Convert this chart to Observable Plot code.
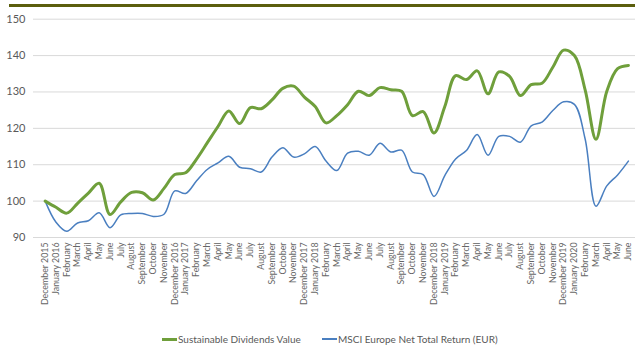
<!DOCTYPE html>
<html>
<head>
<meta charset="utf-8">
<script src="https://cdn.jsdelivr.net/npm/d3@7"></script>
<script src="https://cdn.jsdelivr.net/npm/@observablehq/plot@0.6"></script>
<style>
  html, body { margin: 0; padding: 0; background: #fff; }
  #wrap { position: relative; width: 635px; height: 347px; overflow: hidden; font-family: Lato, "Liberation Sans", sans-serif; }
  #topline { position: absolute; left: 9px; top: 4px; width: 626px; height: 3px; background: #5b5e0d; }
  #chart { position: absolute; left: 0; top: 0; }
  #legend { position: absolute; left: 0; top: 333px; width: 635px; height: 14px; font-size: 10px; color: #595959; }
  .item { position: absolute; top: 0; display: flex; align-items: center; white-space: nowrap; }
  .swatch { display: inline-block; width: 15px; margin-right: 1px; }
</style>
</head>
<body>
<div id="wrap">
  <div id="chart"></div>
  <div id="topline"></div>
  <div id="legend"></div>
</div>
<script>
// Month labels along the x axis (Dec 2015 – Jun 2020)
const tickLabels = [
  "December 2015", "January 2016", "February", "March", "April", "May", "June", "July", "August", "September", "October", "November",
  "December 2016", "January 2017", "February", "March", "April", "May", "June", "July", "August", "September", "October", "November",
  "December 2017", "January 2018", "February", "March", "April", "May", "June", "July", "August", "September", "October", "November",
  "December 2018", "January 2019", "February", "March", "April", "May", "June", "July", "August", "September", "October", "November",
  "December 2019", "January 2020", "February", "March", "April", "May", "June"
];

// Series names
const seriesNames = ["Sustainable Dividends Value", "MSCI Europe Net Total Return (EUR)"];

// Rebased performance (Dec 2015 = 100)
const sustainableDividends = [
  100, 98.3, 96.7, 99.4, 102.2, 104.9, 96.3, 99.8, 102.4, 102.3, 100.3, 103.5,
  107.3, 107.8, 111.5, 116, 120.5, 124.8, 121.3, 125.7, 125.4, 127.8, 131, 131.6,
  128.6, 126, 121.5, 123.5, 126.5, 130.2, 129, 131.2, 130.6, 130.2, 123.5, 124.6,
  118.7, 126, 134.5, 133.4, 135.8, 129.5, 135.5, 134.3, 129, 132, 132.4, 136.8,
  141.5, 140, 130.5, 117, 130.2, 136.4, 137.3
];
const msciEurope = [
  100, 94.2, 91.7, 94, 94.6, 96.8, 92.7, 96.2, 96.6, 96.6, 95.8, 96.4,
  102.8, 102.1, 105.5, 108.7, 110.5, 112.3, 109.3, 108.9, 108, 112.1, 114.7, 112.1,
  113, 115, 111, 108.4, 113.2, 113.7, 112.6, 115.9, 113.5, 114, 108, 107.3,
  101.3, 107, 111.6, 113.9, 118.3, 112.6, 117.8, 117.8, 116.2, 120.7, 121.7, 124.9,
  127.3, 126.6, 117, 98.6, 104.2, 107.2, 111
];

// Y axis ticks
const yTicks = [90, 100, 110, 120, 130, 140, 150];

const colors = ["#6f9f3b", "#4a7fc0"];
const widths = [3, 1.5];

const idx = d3.range(tickLabels.length);
const rows = [
  ...idx.map(i => ({i, value: sustainableDividends[i], series: seriesNames[0]})),
  ...idx.map(i => ({i, value: msciEurope[i], series: seriesNames[1]}))
];

const chart = Plot.plot({
  width: 635,
  height: 330,
  marginLeft: 33,
  marginRight: 0,
  marginTop: 18,
  marginBottom: 93,
  style: {fontFamily: "Lato, 'Liberation Sans', sans-serif", color: "#595959", background: "transparent"},
  x: {type: "point", domain: idx, range: [39.3, 633.3]},
  y: {domain: [90, 150], range: [237, 18.7]},
  marks: [
    Plot.gridY(yTicks, {stroke: "#d9d9d9", strokeOpacity: 1, strokeWidth: 1}),
    Plot.axisY(yTicks, {tickSize: 0, tickPadding: 8, fontSize: 11, fill: "#595959", label: null}),
    Plot.axisX(idx, {
      tickSize: 0, tickPadding: 5, tickRotate: -90, fontSize: 8.8, fill: "#666666",
      tickFormat: i => tickLabels[i], label: null
    }),
    Plot.line(rows.filter(d => d.series === seriesNames[1]), {
      x: "i", y: "value", stroke: colors[1], strokeWidth: widths[1], curve: "catmull-rom"
    }),
    Plot.line(rows.filter(d => d.series === seriesNames[0]), {
      x: "i", y: "value", stroke: colors[0], strokeWidth: widths[0], curve: "catmull-rom"
    })
  ]
});
document.getElementById("chart").append(chart);

// Legend under the chart
const legend = d3.select("#legend");
const lefts = [162, 322];
seriesNames.forEach((name, k) => {
  const item = legend.append("div").attr("class", "item").style("left", lefts[k] + "px");
  item.append("span").attr("class", "swatch")
    .style("height", widths[k] === 3 ? "3px" : "2px")
    .style("background", colors[k]);
  item.append("span").text(name);
});
</script>
</body>
</html>
